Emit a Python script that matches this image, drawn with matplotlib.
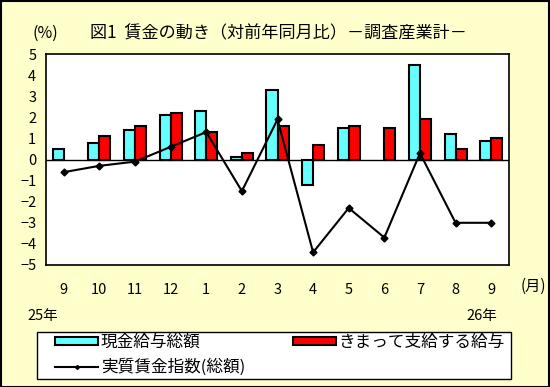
import matplotlib.pyplot as plt
import numpy as np
from matplotlib.patches import Rectangle
from matplotlib.lines import Line2D

plt.rcParams['font.family'] = ['Noto Sans CJK JP', 'DejaVu Sans']

months = ['9', '10', '11', '12', '1', '2', '3', '4', '5', '6', '7', '8', '9']
genkin = [0.5, 0.8, 1.4, 2.1, 2.3, 0.1, 3.3, -1.2, 1.5, np.nan, 4.5, 1.2, 0.9]     # 現金給与総額
kimatte = [np.nan, 1.1, 1.6, 2.2, 1.3, 0.3, 1.6, 0.7, 1.6, 1.5, 1.9, 0.5, 1.0]     # きまって支給する給与
jisshitsu = [-0.6, -0.3, -0.1, 0.6, 1.3, -1.5, 1.9, -4.4, -2.3, -3.7, 0.3, -3.0, -3.0]  # 実質賃金指数

bg = '#FFFFCC'
fig = plt.figure(figsize=(5.5, 3.87), dpi=100, facecolor=bg)
ax = fig.add_axes([46/550, 122/387, 463/550, 211/387])

x = np.arange(len(months))
w = 0.31
b1 = ax.bar(x - w/2, genkin, w, color='#66FFFF', edgecolor='black', linewidth=1.5, zorder=2)
b2 = ax.bar(x + w/2, kimatte, w, color='#FF0000', edgecolor='black', linewidth=1.5, zorder=2)
ln, = ax.plot(x, jisshitsu, color='black', linewidth=1.5, marker='D', markersize=3.5, zorder=3)
ax.axhline(0, color='black', linewidth=1, zorder=1)

ax.set_xlim(-0.5, len(months) - 0.5)
ax.set_ylim(-5, 5)
ax.set_yticks(range(-5, 6))
ax.set_yticklabels([str(v).replace('-', '−') for v in range(-5, 6)])
ax.set_xticks(x)
ax.set_xticklabels(months)
ax.tick_params(axis='both', length=0, labelsize=10.5)
ax.tick_params(axis='x', pad=13)
ax.tick_params(axis='y', pad=7)
for s in ax.spines.values():
    s.set_linewidth(1.2)

fig.text(33/550, 1 - 33/387, '(%)', fontsize=11.5, va='center')
fig.text(90/550, 1 - 33/387, '図1  賃金の動き（対前年同月比）－調査産業計－', fontsize=12.3, va='center')
fig.text(521/550, 1 - 286/387, '(月)', fontsize=11, va='center')
fig.text(27/550, 1 - 316/387, '25年', fontsize=10.5, va='center')
fig.text(466/550, 1 - 316/387, '26年', fontsize=10.5, va='center')

# legend box
fig.patches.append(Rectangle((37/550, 8/387), 474/550, 47/387, transform=fig.transFigure,
                             facecolor='white', edgecolor='black', linewidth=1, zorder=1))

cyan_h = Rectangle((0, 0), 1, 1, facecolor='#66FFFF', edgecolor='black', linewidth=1.5)
red_h = Rectangle((0, 0), 1, 1, facecolor='#FF0000', edgecolor='black', linewidth=1.5)
line_h = Line2D([], [], color='black', linewidth=1.5, marker='D', markersize=2)
opts = dict(fontsize=12, frameon=False, borderpad=0, borderaxespad=0,
            labelspacing=0.45, handlelength=2.6, handleheight=0.4, handletextpad=0.15)
leg1 = fig.legend([cyan_h, line_h], ['現金給与総額', '実質賃金指数(総額)'],
                  loc='upper left', bbox_to_anchor=(55/550, 1 - 334/387), **opts)
leg2 = fig.legend([red_h], ['きまって支給する給与'],
                  loc='upper left', bbox_to_anchor=(293/550, 1 - 334/387), **opts)
leg1.set_zorder(2)
leg2.set_zorder(2)

fig.patches.append(Rectangle((0.001, 0.001), 0.997, 0.997, transform=fig.transFigure,
                             fill=False, edgecolor='black', linewidth=1.5))

fig.savefig('out.png', dpi=100, facecolor=bg)
